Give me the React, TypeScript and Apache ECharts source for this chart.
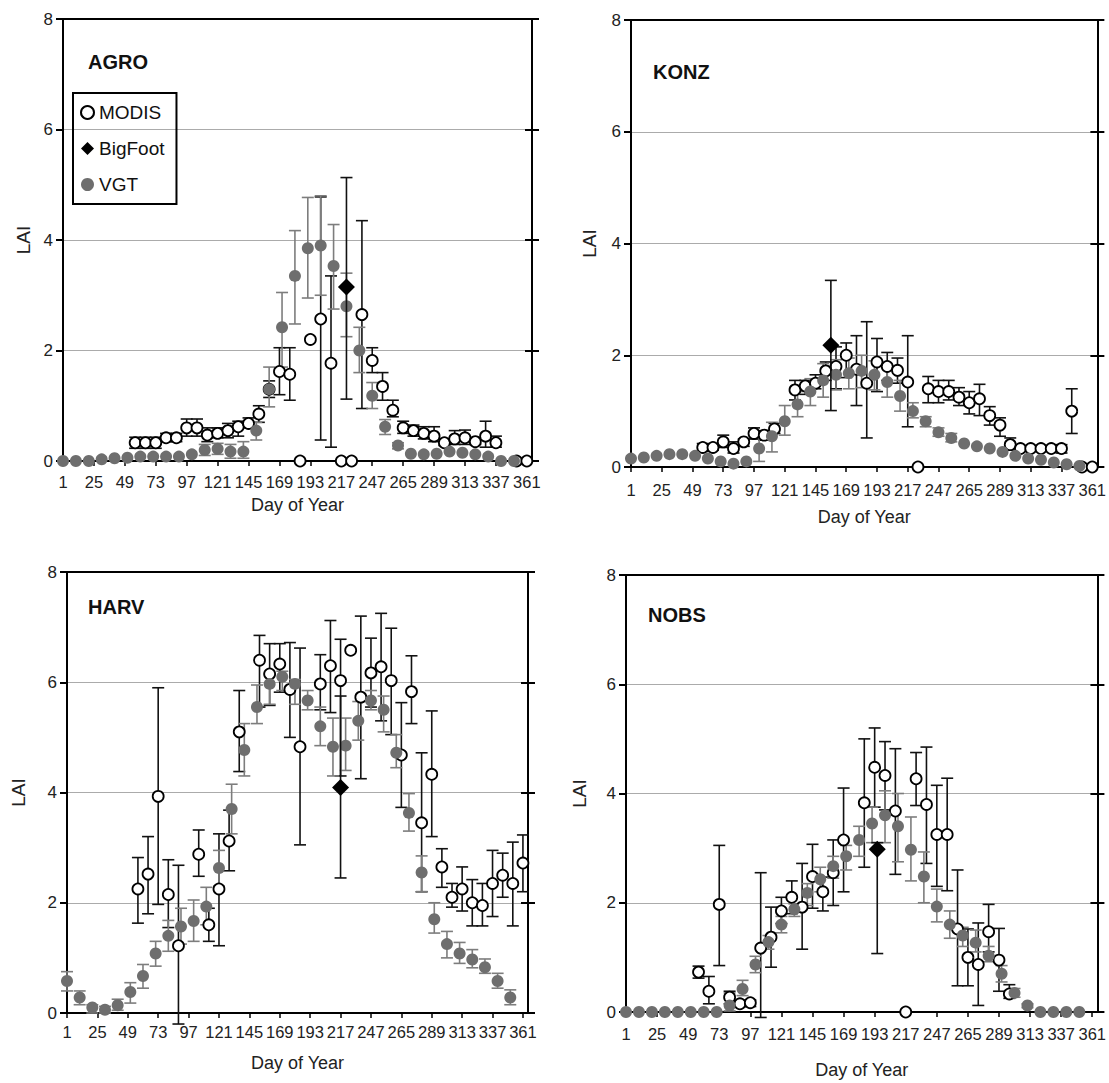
import React, { useEffect, useRef } from "react";
import * as echarts from "echarts";

// ---------- data ----------
const DAYS_8 = [1, 9, 17, 25, 33, 41, 49, 57, 65, 73, 81, 89, 97, 105, 113, 121, 129, 137, 145, 153, 161, 169, 177, 185, 193, 201, 209, 217, 225, 233, 241, 249, 257, 265, 273, 281, 289, 297, 305, 313, 321, 329, 337, 345, 353, 361];
const DAYS_10 = [1, 11, 21, 31, 41, 51, 61, 71, 81, 91, 101, 111, 121, 131, 141, 151, 161, 171, 181, 191, 201, 211, 221, 231, 241, 251, 261, 271, 281, 291, 301, 311, 321, 331, 341, 351];
const TICK_DAYS = [1, 25, 49, 73, 97, 121, 145, 169, 193, 217, 241, 265, 289, 313, 337, 361];
const TICK_LABELS = ["1", "25", "49", "73", "97", "121", "145", "169", "193", "217", "247", "265", "289", "313", "337", "361"];
const SITES = ["AGRO", "KONZ", "HARV", "NOBS"];
const _ = null;

// AGRO
const AGRO_MODIS = [_, _, _, _, _, _, _, 0.33, 0.33, 0.33, 0.42, 0.42, 0.6, 0.6, 0.47, 0.5, 0.55, 0.62, 0.68, 0.85, 1.3, 1.62, 1.57, 0, 2.2, 2.57, 1.77, 0, 0, 2.65, 1.82, 1.35, 0.92, 0.6, 0.55, 0.5, 0.45, 0.33, 0.4, 0.42, 0.35, 0.45, 0.33, _, 0, 0];
const AGRO_MODIS_LO = [_, _, _, _, _, _, _, 0.23, 0.23, 0.23, 0.35, 0.35, 0.45, 0.45, 0.35, 0.42, 0.42, 0.45, 0.6, 0.7, 1.15, 1.2, 1.1, _, _, 0.38, 0.25, _, _, 0.95, 1.6, 1.1, 0.8, 0.5, 0.45, 0.4, 0.35, 0.28, 0.3, 0.3, 0.3, 0.25, 0.25, _, _, _];
const AGRO_MODIS_HI = [_, _, _, _, _, _, _, 0.43, 0.43, 0.43, 0.5, 0.5, 0.76, 0.76, 0.6, 0.6, 0.68, 0.72, 0.78, 1.0, 1.45, 2.05, 2.05, _, _, 4.78, 3.35, _, _, 4.35, 2.05, 1.6, 1.1, 0.72, 0.65, 0.62, 0.62, 0.4, 0.55, 0.56, 0.42, 0.72, 0.45, _, _, _];
const AGRO_VGT = [0, 0, 0, 0.03, 0.05, 0.06, 0.08, 0.08, 0.08, 0.08, 0.12, 0.2, 0.22, 0.17, 0.17, 0.55, 1.3, 2.42, 3.35, 3.85, 3.9, 3.53, 2.8, 2.0, 1.18, 0.62, 0.28, 0.13, 0.12, 0.13, 0.17, 0.15, 0.12, 0.08, 0, 0];
const AGRO_VGT_LO = [_, _, _, _, _, _, _, _, _, _, _, 0.1, 0.12, 0.05, 0.05, 0.38, 0.98, 1.7, 2.48, 2.95, 3.0, 2.75, 2.25, 1.6, 0.95, 0.48, 0.22, _, _, _, _, _, _, _, _, _];
const AGRO_VGT_HI = [_, _, _, _, _, _, _, _, _, _, _, 0.3, 0.32, 0.3, 0.35, 0.7, 1.7, 3.05, 4.17, 4.77, 4.8, 4.28, 3.4, 2.42, 1.42, 0.75, 0.33, _, _, _, _, _, _, _, _, _];
const AGRO_BIGFOOT = [221, 3.15, 1.12, 5.13]; // day, LAI, low, high

// KONZ
const KONZ_MODIS = [_, _, _, _, _, _, _, 0.35, 0.35, 0.45, 0.33, 0.45, 0.6, 0.57, 0.68, _, 1.38, 1.45, 1.5, 1.72, 1.8, 2.0, 1.75, 1.5, 1.88, 1.8, 1.73, 1.52, 0, 1.4, 1.35, 1.35, 1.25, 1.15, 1.22, 0.92, 0.75, 0.4, 0.33, 0.33, 0.33, 0.33, 0.33, 1.0, 0, 0];
const KONZ_MODIS_LO = [_, _, _, _, _, _, _, 0.28, 0.3, 0.35, 0.25, 0.37, 0.5, 0.48, 0.6, _, 1.2, 1.3, 1.4, 1.55, 1.4, 1.6, 1.1, 0.52, 1.35, 1.55, 1.5, 0.72, _, 1.15, 1.15, 1.2, 1.1, 0.95, 0.92, 0.75, 0.55, 0.3, 0.3, 0.3, 0.3, 0.3, 0.25, 0.6, _, _];
const KONZ_MODIS_HI = [_, _, _, _, _, _, _, 0.42, 0.4, 0.57, 0.45, 0.5, 0.7, 0.65, 0.78, _, 1.55, 1.55, 1.65, 1.88, 2.15, 2.22, 2.35, 2.6, 2.3, 2.05, 1.95, 2.35, _, 1.62, 1.55, 1.55, 1.42, 1.35, 1.48, 1.08, 0.88, 0.52, 0.38, 0.38, 0.38, 0.38, 0.4, 1.4, _, _];
const KONZ_VGT = [0.15, 0.17, 0.2, 0.23, 0.23, 0.2, 0.15, 0.1, 0.06, 0.1, 0.33, 0.55, 0.82, 1.12, 1.35, 1.55, 1.65, 1.68, 1.72, 1.65, 1.52, 1.27, 1.0, 0.82, 0.62, 0.52, 0.42, 0.37, 0.33, 0.27, 0.2, 0.15, 0.13, 0.08, 0.05, 0.02];
const KONZ_VGT_LO = [_, _, _, _, _, _, _, _, _, _, 0.1, 0.27, 0.57, 0.9, 1.1, 1.25, 1.38, 1.4, 1.42, 1.38, 1.25, 1.0, 0.88, 0.72, 0.55, 0.45, _, _, _, _, _, _, _, _, _, _];
const KONZ_VGT_HI = [_, _, _, _, _, _, _, _, _, _, 0.55, 0.8, 1.1, 1.35, 1.58, 1.85, 1.92, 1.95, 2.0, 1.9, 1.8, 1.55, 1.15, 0.9, 0.7, 0.6, _, _, _, _, _, _, _, _, _, _];
const KONZ_BIGFOOT = [157, 2.18, 1.01, 3.34];

// HARV
const HARV_MODIS = [_, _, _, _, _, _, _, 2.25, 2.52, 3.93, 2.15, 1.22, _, 2.88, 1.6, 2.25, 3.12, 5.1, _, 6.4, 6.15, 6.33, 5.87, 4.83, _, 5.97, 6.3, 6.03, 6.58, 5.73, 6.17, 6.28, 6.03, 4.68, 5.83, 3.45, 4.33, 2.65, 2.1, 2.25, 2.0, 1.95, 2.35, 2.5, 2.35, 2.72];
const HARV_MODIS_LO = [_, _, _, _, _, _, _, 1.63, 1.8, 1.97, 1.55, -0.2, _, 2.48, 1.3, 1.22, 2.58, 4.38, _, 5.55, 5.58, 5.82, 5.0, 3.05, _, 5.5, 5.45, 4.3, _, 4.25, 5.55, 5.3, 5.05, 3.73, 5.25, 2.2, 3.2, 2.28, 1.92, 1.85, 1.58, 1.58, 1.75, 2.1, 1.58, 2.2];
const HARV_MODIS_HI = [_, _, _, _, _, _, _, 2.82, 3.2, 5.9, 2.78, 2.68, _, 3.32, 1.9, 3.25, 3.68, 5.85, _, 6.85, 6.7, 6.7, 6.72, 6.62, _, 6.5, 7.12, 6.78, _, 7.2, 6.8, 7.25, 6.98, 5.63, 6.48, 4.72, 5.48, 2.98, 2.35, 2.65, 2.42, 2.35, 2.95, 2.9, 3.1, 3.23];
const HARV_VGT = [0.58, 0.28, 0.1, 0.06, 0.14, 0.38, 0.67, 1.08, 1.4, 1.57, 1.67, 1.93, 2.63, 3.7, 4.77, 5.55, 5.97, 6.1, 5.97, 5.67, 5.2, 4.83, 4.85, 5.3, 5.67, 5.5, 4.72, 3.63, 2.55, 1.7, 1.25, 1.08, 0.97, 0.83, 0.58, 0.28];
const HARV_VGT_LO = [0.4, 0.15, 0, 0, 0.05, 0.18, 0.45, 0.85, 1.12, 1.25, 1.3, 1.6, 2.3, 3.25, 4.3, 5.25, 5.6, 5.85, 5.6, 5.5, 4.85, 4.3, 4.4, 4.95, 5.5, 5.1, 4.45, 3.3, 2.2, 1.45, 1.0, 0.9, 0.82, 0.72, 0.45, 0.15];
const HARV_VGT_HI = [0.75, 0.4, 0.15, 0.12, 0.25, 0.55, 0.88, 1.3, 1.68, 1.9, 2.05, 2.28, 2.95, 4.15, 5.25, 5.95, 6.15, 6.2, 6.05, 5.85, 5.55, 5.35, 5.35, 5.65, 5.85, 5.75, 5.05, 3.98, 2.85, 2.0, 1.48, 1.28, 1.15, 0.98, 0.72, 0.42];
const HARV_BIGFOOT = [217, 4.09, 2.45, 5.75];

// NOBS
const NOBS_MODIS = [_, _, _, _, _, _, _, 0.73, 0.38, 1.97, 0.27, 0.15, 0.17, 1.17, 1.37, 1.85, 2.1, 1.92, 2.48, 2.2, 2.55, 3.15, _, 3.83, 4.48, 4.33, 3.68, 0, 4.27, 3.8, 3.25, 3.25, 1.52, 1.0, 0.87, 1.47, 0.95, 0.33, _, _, _, _, _, _, _, _];
const NOBS_MODIS_LO = [_, _, _, _, _, _, _, 0.62, 0.15, 0.85, 0.15, 0.1, 0.1, -0.1, 0.82, 1.62, 1.8, 1.15, 1.9, 1.85, 1.95, 2.2, _, 2.65, 3.75, 3.7, 2.52, _, 3.78, 2.72, 2.3, 2.22, 0.48, 0.48, 0.12, 1.1, 0.38, 0.25, _, _, _, _, _, _, _, _];
const NOBS_MODIS_HI = [_, _, _, _, _, _, _, 0.84, 0.65, 3.05, 0.38, 0.2, 0.22, 2.55, 1.92, 2.1, 2.4, 2.72, 3.07, 2.47, 3.15, 4.1, _, 5.0, 5.2, 4.95, 4.82, _, 4.75, 4.85, 4.15, 4.28, 2.6, 1.52, 1.63, 1.97, 1.53, 0.5, _, _, _, _, _, _, _, _];
const NOBS_VGT = [0, 0, 0, 0, 0, 0, 0, 0, 0.12, 0.42, 0.87, 1.28, 1.6, 1.88, 2.18, 2.43, 2.67, 2.85, 3.15, 3.45, 3.6, 3.4, 2.97, 2.48, 1.93, 1.6, 1.4, 1.27, 1.03, 0.7, 0.35, 0.12, 0, 0, 0, 0];
const NOBS_VGT_LO = [_, _, _, _, _, _, _, _, 0.02, 0.3, 0.72, 1.15, 1.45, 1.75, 1.95, 2.2, 2.45, 2.6, 2.85, 3.1, 3.1, 2.75, 2.4, 2.0, 1.65, 1.35, 1.2, 1.1, 0.92, 0.55, 0.27, 0.08, _, _, _, _];
const NOBS_VGT_HI = [_, _, _, _, _, _, _, _, 0.35, 0.58, 1.02, 1.4, 1.75, 1.98, 2.35, 2.65, 2.85, 3.05, 3.4, 3.75, 4.05, 4.0, 3.57, 2.93, 2.25, 1.85, 1.55, 1.5, 1.2, 0.85, 0.43, 0.15, _, _, _, _];
const NOBS_BIGFOOT = [195, 2.98, 1.07, 3.1];

// ---------- layout ----------
const FONT = "'Liberation Sans', Arial, Helvetica, sans-serif";
const LAYOUT = [
  { left: 63, top: 19, width: 469, height: 442, title: [83, 47], lblMargin: 12, nameGap: 35, yNameGap: 30 },
  { left: 631, top: 20, width: 469, height: 447, title: [648, 57], lblMargin: 14, nameGap: 41, yNameGap: 32 },
  { left: 67, top: 572, width: 461, height: 441, title: [83, 592], lblMargin: 10, nameGap: 41, yNameGap: 39 },
  { left: 626, top: 575, width: 474, height: 437, title: [643, 600], lblMargin: 13, nameGap: 49, yNameGap: 37 },
];

const PANEL_DATA = [
  { modis: AGRO_MODIS, mlo: AGRO_MODIS_LO, mhi: AGRO_MODIS_HI, vgt: AGRO_VGT, vlo: AGRO_VGT_LO, vhi: AGRO_VGT_HI, bf: AGRO_BIGFOOT },
  { modis: KONZ_MODIS, mlo: KONZ_MODIS_LO, mhi: KONZ_MODIS_HI, vgt: KONZ_VGT, vlo: KONZ_VGT_LO, vhi: KONZ_VGT_HI, bf: KONZ_BIGFOOT },
  { modis: HARV_MODIS, mlo: HARV_MODIS_LO, mhi: HARV_MODIS_HI, vgt: HARV_VGT, vlo: HARV_VGT_LO, vhi: HARV_VGT_HI, bf: HARV_BIGFOOT },
  { modis: NOBS_MODIS, mlo: NOBS_MODIS_LO, mhi: NOBS_MODIS_HI, vgt: NOBS_VGT, vlo: NOBS_VGT_LO, vhi: NOBS_VGT_HI, bf: NOBS_BIGFOOT },
];

const GRAY = "#6e6e6e";
const ERR_GRAY = "#7d7d7d";

function errRender(half: number, color: string, width: number) {
  return (params: any, api: any) => {
    const x = api.value(0);
    const pLo = api.coord([x, api.value(1)]);
    const pHi = api.coord([x, api.value(2)]);
    const style = { stroke: color, lineWidth: width };
    return {
      type: "group",
      children: [
        { type: "line", shape: { x1: pLo[0], y1: pLo[1], x2: pHi[0], y2: pHi[1] }, style },
        { type: "line", shape: { x1: pLo[0] - half, y1: pLo[1], x2: pLo[0] + half, y2: pLo[1] }, style },
        { type: "line", shape: { x1: pHi[0] - half, y1: pHi[1], x2: pHi[0] + half, y2: pHi[1] }, style },
      ],
    };
  };
}

function pairs(days: number[], vals: (number | null)[]) {
  const out: number[][] = [];
  days.forEach((d, i) => { if (vals[i] !== null && vals[i] !== undefined) out.push([d, vals[i] as number]); });
  return out;
}
function triples(days: number[], lo: (number | null)[], hi: (number | null)[]) {
  const out: number[][] = [];
  days.forEach((d, i) => { if (lo[i] !== null && hi[i] !== null) out.push([d, lo[i] as number, hi[i] as number]); });
  return out;
}

function buildOption() {
  const grid: any[] = [];
  const xAxis: any[] = [];
  const yAxis: any[] = [];
  const series: any[] = [];
  const title: any[] = [];

  LAYOUT.forEach((L, k) => {
    const P = PANEL_DATA[k];
    grid.push({ left: L.left, top: L.top, width: L.width, height: L.height, containLabel: false });
    title.push({ text: SITES[k], left: L.title[0], top: L.title[1], textStyle: { fontFamily: FONT, fontSize: 20, fontWeight: "bold", color: "#111" } });

    const black = { color: "#000", width: 2 };
    xAxis.push({
      gridIndex: k, type: "value", min: 1, max: 365, position: "bottom",
      axisLine: { show: true, onZero: false, lineStyle: black },
      axisTick: { show: true, customValues: TICK_DAYS, length: 5, lineStyle: { color: "#000", width: 1.5 } },
      axisLabel: { customValues: TICK_DAYS, formatter: (v: number) => TICK_LABELS[TICK_DAYS.indexOf(v)] ?? "", fontFamily: FONT, fontSize: 16.5, color: "#222", margin: L.lblMargin },
      splitLine: { show: false },
      name: "Day of Year", nameLocation: "middle", nameGap: L.nameGap,
      nameTextStyle: { fontFamily: FONT, fontSize: 18, color: "#222" },
    });
    xAxis.push({
      gridIndex: k, type: "value", min: 1, max: 365, position: "top",
      axisLine: { show: true, onZero: false, lineStyle: black },
      axisTick: { show: false }, axisLabel: { show: false }, splitLine: { show: false },
    });
    yAxis.push({
      gridIndex: k, type: "value", min: 0, max: 8, interval: 2, position: "left",
      axisLine: { show: true, onZero: false, lineStyle: black },
      axisTick: { show: true, length: 7, lineStyle: { color: "#000", width: 2 } },
      axisLabel: { fontFamily: FONT, fontSize: 17, color: "#222", margin: 10 },
      splitLine: { show: true, lineStyle: { color: "#ababab", width: 1 } },
      name: "LAI", nameLocation: "middle", nameGap: L.yNameGap, nameRotate: 90,
      nameTextStyle: { fontFamily: FONT, fontSize: 19, color: "#222" },
    });
    yAxis.push({
      gridIndex: k, type: "value", min: 0, max: 8, interval: 2, position: "right",
      axisLine: { show: true, onZero: false, lineStyle: black },
      axisTick: { show: true, length: 7, lineStyle: { color: "#000", width: 2 } },
      axisLabel: { show: false }, splitLine: { show: false },
    });
    yAxis.push({
      gridIndex: k, type: "value", min: 0, max: 8, interval: 2, position: "right",
      axisLine: { show: false, onZero: false },
      axisTick: { show: true, inside: true, length: 7, lineStyle: { color: "#000", width: 2 } },
      axisLabel: { show: false }, splitLine: { show: false },
    });

    const xi = 2 * k;
    const yi = 3 * k;
    series.push({
      type: "custom", name: "MODIS error", xAxisIndex: xi, yAxisIndex: yi, clip: false, silent: true, z: 2,
      renderItem: errRender(6, "#111", 1.6), encode: { x: 0, y: [1, 2] },
      data: triples(DAYS_8, P.mlo, P.mhi),
    });
    series.push({
      type: "custom", name: "VGT error", xAxisIndex: xi, yAxisIndex: yi, clip: false, silent: true, z: 2,
      renderItem: errRender(6, ERR_GRAY, 1.6), encode: { x: 0, y: [1, 2] },
      data: triples(DAYS_10, P.vlo, P.vhi),
    });
    series.push({
      type: "scatter", name: "MODIS", xAxisIndex: xi, yAxisIndex: yi, symbol: "circle", symbolSize: 11, z: 3,
      itemStyle: { color: "#fff", borderColor: "#000", borderWidth: 1.8, opacity: 1 },
      data: pairs(DAYS_8, P.modis),
    });
    series.push({
      type: "scatter", name: "VGT", xAxisIndex: xi, yAxisIndex: yi, symbol: "circle", symbolSize: 12, z: 4,
      itemStyle: { color: GRAY, opacity: 1 },
      data: pairs(DAYS_10, P.vgt),
    });
    series.push({
      type: "custom", name: "BigFoot error", xAxisIndex: xi, yAxisIndex: yi, clip: false, silent: true, z: 5,
      renderItem: errRender(6, "#111", 1.6), encode: { x: 0, y: [1, 2] },
      data: [[P.bf[0], P.bf[2], P.bf[3]]],
    });
    series.push({
      type: "scatter", name: "BigFoot", xAxisIndex: xi, yAxisIndex: yi, symbol: "diamond", symbolSize: 17, z: 6,
      itemStyle: { color: "#000", opacity: 1 },
      data: [[P.bf[0], P.bf[1]]],
    });
  });

  return {
    animation: false,
    backgroundColor: "#fff",
    textStyle: { fontFamily: FONT },
    title,
    grid,
    xAxis,
    yAxis,
    legend: {
      data: [{ name: "MODIS" }, { name: "BigFoot" }, { name: "VGT" }],
      orient: "vertical", left: 73, top: 93,
      itemWidth: 13, itemHeight: 13, itemGap: 17,
      borderColor: "#000", borderWidth: 2, borderRadius: 0,
      padding: [10, 12, 10, 7], selectedMode: false,
      textStyle: { fontFamily: FONT, fontSize: 19, color: "#111" },
    },
    series,
  };
}

export default function App() {
  const ref = useRef<HTMLDivElement>(null);
  useEffect(() => {
    if (!ref.current) return;
    const chart = echarts.init(ref.current, undefined, { renderer: "svg" });
    chart.setOption(buildOption() as any);
    return () => chart.dispose();
  }, []);
  return <div ref={ref} style={{ position: "absolute", left: 0, top: 0, width: 1109, height: 1083, background: "#fff" }} />;
}
